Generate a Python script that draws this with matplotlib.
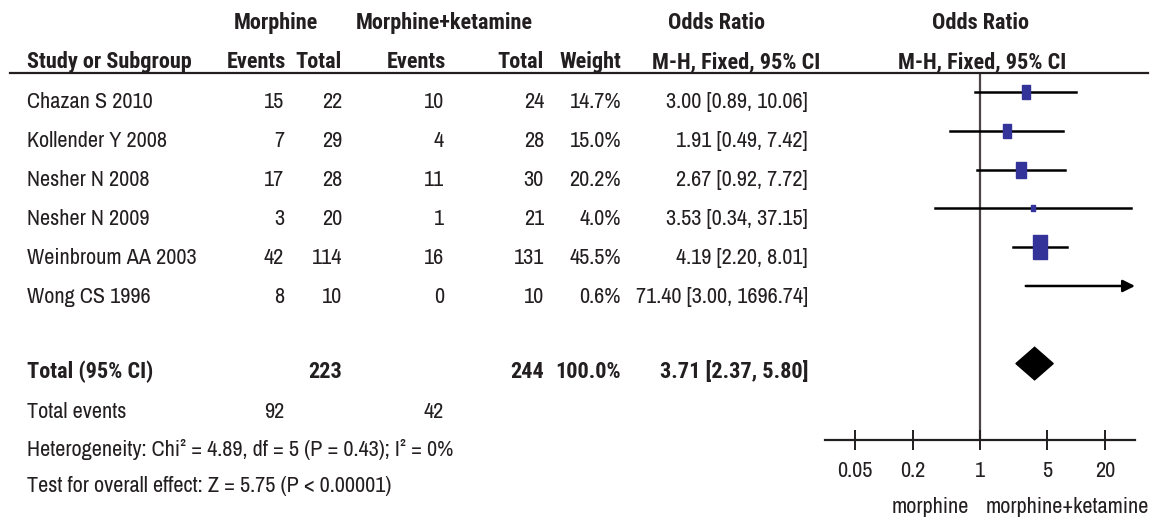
import numpy as np
import matplotlib.pyplot as plt
from matplotlib.lines import Line2D
from matplotlib.patches import Polygon

plt.rcParams['font.family'] = ['Archivo Narrow', 'Roboto Condensed', 'DejaVu Sans']
BOLD_FAMILY = ['Roboto Condensed', 'DejaVu Sans']

# ---- data ----
studies = ['Chazan S 2010', 'Kollender Y 2008', 'Nesher N 2008', 'Nesher N 2009',
           'Weinbroum AA 2003', 'Wong CS 1996']
m_events = [15, 7, 17, 3, 42, 8]
m_total = [22, 29, 28, 20, 114, 10]
k_events = [10, 4, 11, 1, 16, 0]
k_total = [24, 28, 30, 21, 131, 10]
weight = [14.7, 15.0, 20.2, 4.0, 45.5, 0.6]
or_est = [3.00, 1.91, 2.67, 3.53, 4.19, 71.40]
ci_lo = [0.89, 0.49, 0.92, 0.34, 2.20, 3.00]
ci_hi = [10.06, 7.42, 7.72, 37.15, 8.01, 1696.74]

tot_m_total, tot_k_total, tot_weight = 223, 244, 100.0
tot_or, tot_lo, tot_hi = 3.71, 2.37, 5.80
tot_m_events, tot_k_events = 92, 42
heterogeneity = 'Heterogeneity: Chi² = 4.89, df = 5 (P = 0.43); I² = 0%'
overall = 'Test for overall effect: Z = 5.75 (P < 0.00001)'
ticks = [0.05, 0.2, 1, 5, 20]
tick_labels = ['0.05', '0.2', '1', '5', '20']

W, H = 1154, 521
FS = 16
TXT = '#231f20'
fig = plt.figure(figsize=(W / 100, H / 100), dpi=100)


def put(x, y, s, ha='left', bold=False, **kw):
    if bold:
        kw['family'] = BOLD_FAMILY
        kw['fontweight'] = 'bold'
    fig.text(x / W, 1 - y / H, s, ha=ha, va='center', fontsize=FS, color=TXT, **kw)


# column right edges (pixels)
c_me, c_mt, c_ke, c_kt, c_w, c_or = 284, 342, 444, 544, 621, 808

# header
put(276, 23, 'Morphine', ha='center', bold=True)
put(444, 23, 'Morphine+ketamine', ha='center', bold=True)
put(717, 23, 'Odds Ratio', ha='center', bold=True)
put(981, 23, 'Odds Ratio', ha='center', bold=True)
put(27, 62, 'Study or Subgroup', bold=True)
put(c_me + 2, 62, 'Events', ha='right', bold=True)
put(c_mt, 62, 'Total', ha='right', bold=True)
put(c_ke + 2, 62, 'Events', ha='right', bold=True)
put(c_kt, 62, 'Total', ha='right', bold=True)
put(c_w, 62, 'Weight', ha='right', bold=True)
put(c_or + 12, 62, 'M-H, Fixed, 95% CI', ha='right', bold=True)
put(982, 62, 'M-H, Fixed, 95% CI', ha='center', bold=True)
fig.add_artist(Line2D([10 / W, 1148 / W], [1 - 73 / H, 1 - 73 / H], color=TXT, lw=1.6))

# study rows
for i, name in enumerate(studies):
    y = 102.5 + 38.9 * i
    put(27, y, name)
    put(c_me, y, str(m_events[i]), ha='right')
    put(c_mt, y, str(m_total[i]), ha='right')
    put(c_ke, y, str(k_events[i]), ha='right')
    put(c_kt, y, str(k_total[i]), ha='right')
    put(c_w, y, f'{weight[i]:.1f}%', ha='right')
    put(c_or, y, f'{or_est[i]:.2f} [{ci_lo[i]:.2f}, {ci_hi[i]:.2f}]', ha='right')

# totals
put(27, 372, 'Total (95% CI)', bold=True)
put(c_mt, 372, str(tot_m_total), ha='right', bold=True)
put(c_kt, 372, str(tot_k_total), ha='right', bold=True)
put(c_w, 372, f'{tot_weight:.1f}%', ha='right', bold=True)
put(c_or, 372, f'{tot_or:.2f} [{tot_lo:.2f}, {tot_hi:.2f}]', ha='right', bold=True)
put(27, 412, 'Total events')
put(c_me, 412, str(tot_m_events), ha='right')
put(c_ke, 412, str(tot_k_events), ha='right')
put(27, 450, heterogeneity)
put(27, 486, overall)

# ---- forest plot ----
ax = fig.add_axes([825 / W, 1 - 440 / H, 310 / W, (440 - 73) / H])
ax.set_xscale('log')
lim = 10 ** (155 / 95.9)
ax.set_xlim(1 / lim, lim)
ax.set_ylim(8.97, -0.49)
ax.patch.set_alpha(0)
for s in ['top', 'left', 'right']:
    ax.spines[s].set_visible(False)
ax.spines['bottom'].set_linewidth(1.6)
ax.spines['bottom'].set_color(TXT)
ax.set_yticks([])
ax.set_xticks(ticks)
ax.set_xticklabels(tick_labels)
ax.xaxis.set_minor_locator(plt.NullLocator())
ax.tick_params(axis='x', direction='inout', length=14, width=1.4, pad=8,
               labelsize=FS, colors=TXT)
ax.axvline(1, color='#4d4545', lw=1.6, zorder=1)

box = [(-0.6, -1), (0.6, -1), (0.6, 1), (-0.6, 1), (-0.6, -1)]
xmax = ax.get_xlim()[1]
for i in range(len(studies)):
    if ci_hi[i] > xmax:
        ax.annotate('', xy=(xmax, i), xytext=(ci_lo[i], i),
                    arrowprops=dict(arrowstyle='-|>', color='black', lw=1.8,
                                    mutation_scale=18, shrinkA=0, shrinkB=0))
    else:
        ax.plot([ci_lo[i], ci_hi[i]], [i, i], color='black', lw=1.8, zorder=2)
    ax.plot(or_est[i], i, marker=box, ms=2.5 * np.sqrt(weight[i]),
            color='#333399', mec='#333399', zorder=3)

h = 0.42
ax.add_patch(Polygon([(tot_lo, 7), (tot_or, 7 - h), (tot_hi, 7), (tot_or, 7 + h)],
                     closed=True, color='black', zorder=3))

put(930, 507, 'morphine', ha='center')
put(1067, 507, 'morphine+ketamine', ha='center')

fig.savefig('out.png', dpi=100, facecolor='white')
